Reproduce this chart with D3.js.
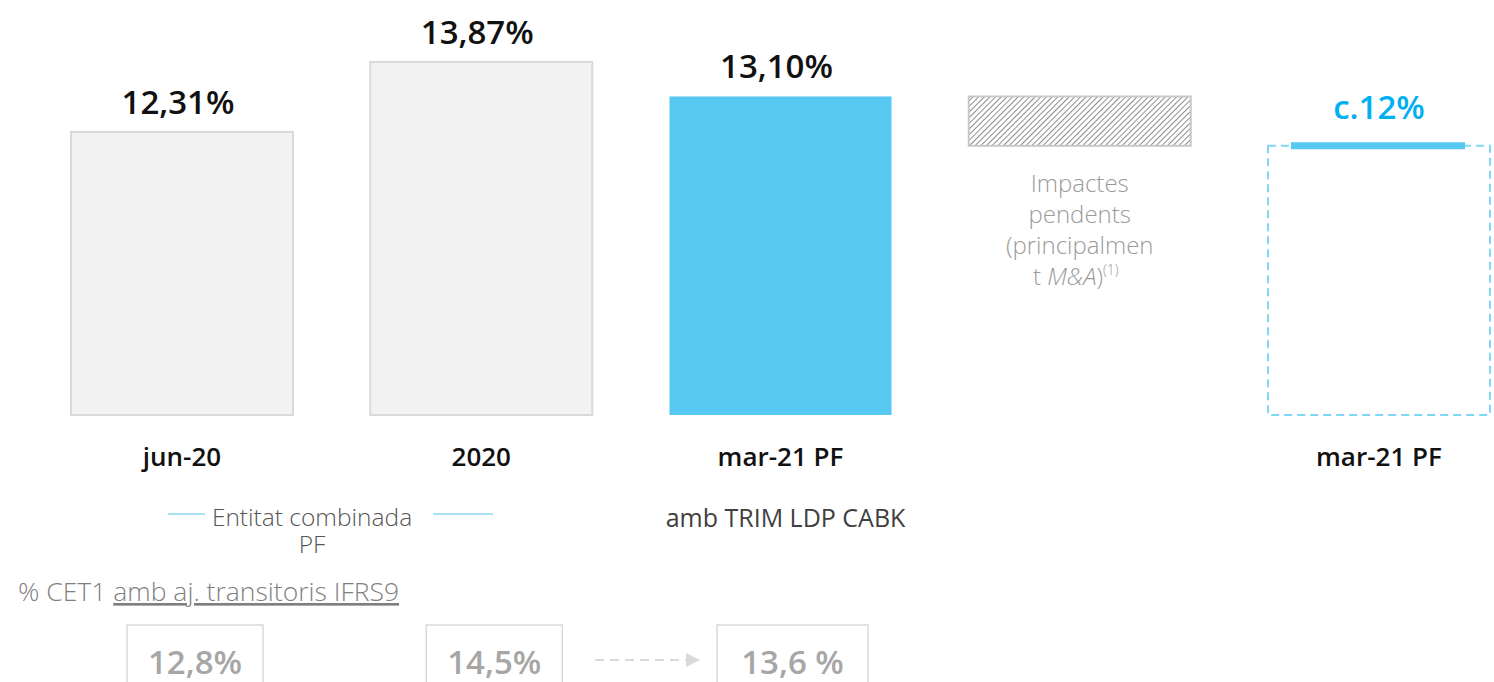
<!DOCTYPE html>
<html>
<head>
<meta charset="utf-8">
<script src="https://cdn.jsdelivr.net/npm/d3@7"></script>
<style>
  html, body { margin: 0; padding: 0; background: #fff; }
  svg { display: block; font-family: "Open Sans", "Noto Sans", sans-serif; }
</style>
</head>
<body>
<svg id="chart" width="1494" height="682"></svg>
<script>
// ---- data ----
const slotIds = ["jun20", "y2020", "mar21", "impact", "mar21target"];
const categoryLabels = ["jun-20", "2020", "mar-21 PF", "", "mar-21 PF"];
const barValues = [12.31, 13.87, 13.10];
const barLabels = ["12,31%", "13,87%", "13,10%"];
const impactFrom = 13.10;
const impactTo = 12.0;
const impactText = ["Impactes", "pendents", "(principalmen"];
const targetValue = 12.0;
const targetLabel = "c.12%";
const legendLines = ["Entitat combinada", "PF"];
const trimNote = "amb TRIM LDP CABK";
const ifrsTitlePrefix = "% CET1 ";
const ifrsTitleUnderlined = "amb aj. transitoris IFRS9";
const ifrsValues = [12.8, 14.5, 13.6];
const ifrsLabels = ["12,8%", "14,5%", "13,6 %"];

// ---- setup ----
const svg = d3.select("#chart");
const x = d3.scaleBand().domain(slotIds).range([71, 1490]).paddingInner(0.258).paddingOuter(0);
const y = d3.scaleLinear().domain([6, 15.25]).range([415, 0]);
const base = y.domain()[0];

const grey = "#F2F2F2", greyStroke = "#D9D9D9", blue = "#56C8F2", blueText = "#00B0F0";

// hatch pattern
const defs = svg.append("defs");
const pat = defs.append("pattern").attr("id", "hatch").attr("patternUnits", "userSpaceOnUse")
  .attr("width", 4).attr("height", 4).attr("patternTransform", "rotate(45)");
pat.append("rect").attr("width", 4).attr("height", 4).attr("fill", "#fff");
pat.append("line").attr("x1", 0.5).attr("y1", 0).attr("x2", 0.5).attr("y2", 4)
  .attr("stroke", "#8c8c8c").attr("stroke-width", 1);

// ---- bars ----
const barData = barValues.map((v, i) => ({ id: slotIds[i], v, label: barLabels[i] }));
svg.append("g").selectAll("rect").data(barData).join("rect")
  .attr("x", d => x(d.id)).attr("width", x.bandwidth())
  .attr("y", d => y(d.v)).attr("height", d => y(base) - y(d.v))
  .attr("fill", (d, i) => i === 2 ? blue : grey)
  .attr("stroke", (d, i) => i === 2 ? "none" : greyStroke)
  .attr("stroke-width", 2);

svg.append("g").selectAll("text").data(barData).join("text")
  .attr("x", d => x(d.id) + x.bandwidth() / 2 - 4)
  .attr("y", d => y(d.v) - 18)
  .attr("text-anchor", "middle")
  .attr("font-size", 33).attr("font-weight", 600).attr("fill", "#111")
  .text(d => d.label);

// ---- impact (hatched) ----
svg.append("rect")
  .attr("x", x("impact")).attr("width", x.bandwidth())
  .attr("y", y(impactFrom)).attr("height", y(impactTo) - y(impactFrom))
  .attr("fill", "url(#hatch)").attr("stroke", "#c8c8c8").attr("stroke-width", 2);

const impG = svg.append("text").attr("text-anchor", "middle")
  .attr("font-size", 24).attr("font-weight", 300).attr("fill", "#9a9a9a");
const icx = x("impact") + x.bandwidth() / 2;
impactText.forEach((t, i) => {
  impG.append("tspan").attr("x", icx).attr("y", 192 + i * 31).text(t);
});
const last = impG.append("tspan").attr("x", icx - 4).attr("y", 192 + 3 * 31);
last.append("tspan").text("t ");
last.append("tspan").attr("font-style", "italic").text("M&A");
last.append("tspan").text(")");
last.append("tspan").attr("font-size", 14).attr("dy", -10).text("(1)");

// ---- target (dashed) ----
svg.append("rect")
  .attr("x", x("mar21target")).attr("width", x.bandwidth())
  .attr("y", y(targetValue)).attr("height", y(base) - y(targetValue))
  .attr("fill", "none").attr("stroke", "#7fd6f5").attr("stroke-width", 2)
  .attr("stroke-dasharray", "8,5");
svg.append("line")
  .attr("x1", x("mar21target") + 23).attr("x2", x("mar21target") + x.bandwidth() - 25)
  .attr("y1", y(targetValue)).attr("y2", y(targetValue))
  .attr("stroke", blue).attr("stroke-width", 7);
svg.append("text")
  .attr("x", x("mar21target") + x.bandwidth() / 2).attr("y", y(targetValue) - 27)
  .attr("text-anchor", "middle").attr("font-size", 33).attr("font-weight", 600)
  .attr("fill", blueText).text(targetLabel);

// ---- category labels ----
svg.append("g").selectAll("text").data(slotIds.map((id, i) => ({ id, t: categoryLabels[i] })).filter(d => d.t))
  .join("text")
  .attr("x", d => x(d.id) + x.bandwidth() / 2).attr("y", 466)
  .attr("text-anchor", "middle").attr("font-size", 26).attr("font-weight", 600)
  .attr("fill", "#111").text(d => d.t);

// ---- legend ----
const legCx = 312;
svg.append("line").attr("x1", 168).attr("x2", 205).attr("y1", 514).attr("y2", 514)
  .attr("stroke", "#a8e2f7").attr("stroke-width", 2);
svg.append("line").attr("x1", 433).attr("x2", 493).attr("y1", 514).attr("y2", 514)
  .attr("stroke", "#a8e2f7").attr("stroke-width", 2);
legendLines.forEach((t, i) => {
  svg.append("text").attr("x", legCx).attr("y", 526 + i * 27).attr("text-anchor", "middle")
    .attr("font-size", 24.5).attr("font-weight", 300).attr("fill", "#555").text(t);
});
svg.append("text").attr("x", x("mar21") + x.bandwidth() / 2 + 5).attr("y", 527)
  .attr("text-anchor", "middle").attr("font-size", 25).attr("font-weight", 400)
  .attr("fill", "#404040").text(trimNote);

// ---- IFRS9 section ----
const tt = svg.append("text").attr("x", 18).attr("y", 601)
  .attr("font-size", 26.5).attr("font-weight", 300).attr("fill", "#7f7f7f");
tt.append("tspan").text(ifrsTitlePrefix);
tt.append("tspan").attr("text-decoration", "underline").text(ifrsTitleUnderlined);

const boxW = [136, 136, 151];
const boxOffset = [13, 13, 12];
const ifrsData = ifrsValues.map((v, i) => ({ id: slotIds[i], v, label: ifrsLabels[i], w: boxW[i], off: boxOffset[i] }));
const bg = svg.append("g").selectAll("g").data(ifrsData).join("g")
  .attr("transform", d => `translate(${x(d.id) + x.bandwidth() / 2 + d.off},0)`);
bg.append("rect").attr("x", d => -d.w / 2).attr("y", 625).attr("width", d => d.w).attr("height", 70)
  .attr("fill", "none").attr("stroke", "#d9d9d9").attr("stroke-width", 1.5);
bg.append("text").attr("x", 0).attr("y", 674).attr("text-anchor", "middle")
  .attr("font-size", 33).attr("font-weight", 600).attr("fill", "#a6a6a6").text(d => d.label);

// arrow
svg.append("line").attr("x1", 595).attr("x2", 686).attr("y1", 660).attr("y2", 660)
  .attr("stroke", "#d9d9d9").attr("stroke-width", 2).attr("stroke-dasharray", "9,6");
svg.append("path").attr("d", "M686,653 L700,660 L686,667 Z").attr("fill", "#d9d9d9");
</script>
</body>
</html>
